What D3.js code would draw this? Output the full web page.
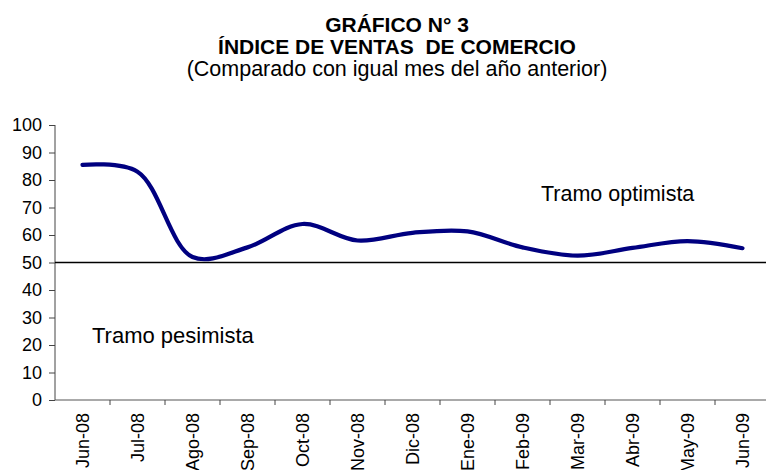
<!DOCTYPE html>
<html><head><meta charset="utf-8">
<script src="https://cdn.jsdelivr.net/npm/d3@7"></script>
<style>body{margin:0;background:#fff;} svg{display:block;} text{font-family:Arial,"Liberation Sans",sans-serif;}</style>
</head><body>
<svg id="c" width="766" height="470"></svg>
<script>
const categories = ["Jun-08","Jul-08","Ago-08","Sep-08","Oct-08","Nov-08","Dic-08","Ene-09","Feb-09","Mar-09","Abr-09","May-09","Jun-09"];
const values = [85.5, 83, 52, 55.5, 64, 58, 60.8, 61.3, 55.5, 52.5, 55.3, 57.8, 55.2];
const yTicks = [0,10,20,30,40,50,60,70,80,90,100];
const threshold = [50];
const titleLines = ["GRÁFICO N° 3", "ÍNDICE DE VENTAS  DE COMERCIO", "(Comparado con igual mes del año anterior)"];
const zoneLabels = ["Tramo optimista", "Tramo pesimista"];

const svg = d3.select("#c");
const mLeft = 55, mRight = 770, mTop = 125, mBottom = 400;
const x = d3.scaleBand().domain(categories).range([mLeft, mRight]);
const y = d3.scaleLinear().domain([0,100]).range([mBottom, mTop]);

// Title
const tcx = 397;
svg.append("text").attr("x", tcx).attr("y", 32).attr("text-anchor","middle")
  .attr("font-weight","bold").attr("font-size",21).text(titleLines[0]);
svg.append("text").attr("x", tcx).attr("y", 54).attr("text-anchor","middle")
  .attr("font-weight","bold").attr("font-size",21).style("white-space","pre").text(titleLines[1]);
svg.append("text").attr("x", tcx).attr("y", 76).attr("text-anchor","middle")
  .attr("font-size",21.5).text(titleLines[2]);

// Y axis
const yAxis = svg.append("g").attr("transform", `translate(${mLeft},0)`)
  .call(d3.axisLeft(y).tickValues(yTicks).tickSize(6).tickPadding(7));
yAxis.selectAll("text").attr("font-size",18).attr("fill","#000").style("font-family","Arial, 'Liberation Sans', sans-serif");
yAxis.selectAll("line, path").attr("stroke","#444");
yAxis.select(".domain").attr("d", `M0,${mBottom}V${mTop}`);

// X axis
const xAxis = svg.append("g").attr("transform", `translate(0,${mBottom})`);
xAxis.append("line").attr("x1", mLeft).attr("x2", 766).attr("y1",0).attr("y2",0).attr("stroke","#555");
xAxis.selectAll("line.tk").data(categories.slice(1)).join("line").attr("class","tk")
  .attr("x1", d => x(d)).attr("x2", d => x(d)).attr("y1",0).attr("y2",5).attr("stroke","#444");
xAxis.selectAll("text.lb").data(categories).join("text").attr("class","lb")
  .attr("transform", d => `translate(${x(d)+x.bandwidth()/2},13) rotate(-90)`)
  .attr("text-anchor","end").attr("dy","0.35em").attr("font-size",18).text(d => d);

// Threshold line
svg.selectAll("line.th").data(threshold).join("line").attr("class","th")
  .attr("x1", mLeft).attr("x2", 766).attr("y1", d => y(d)).attr("y2", d => y(d))
  .attr("stroke","#000").attr("stroke-width",1.6);

// Series line
const line = d3.line().x((d,i) => x(categories[i]) + x.bandwidth()/2).y(d => y(d))
  .curve(d3.curveCatmullRom.alpha(0.5));
svg.append("path").datum(values).attr("d", line).attr("fill","none")
  .attr("stroke","#000080").attr("stroke-width",4.2).attr("stroke-linecap","round").attr("stroke-linejoin","round");

// Zone labels
svg.append("text").attr("x", 541).attr("y", 201).attr("font-size",21.5).text(zoneLabels[0]);
svg.append("text").attr("x", 92).attr("y", 343).attr("font-size",22).text(zoneLabels[1]);
</script>
</body></html>
